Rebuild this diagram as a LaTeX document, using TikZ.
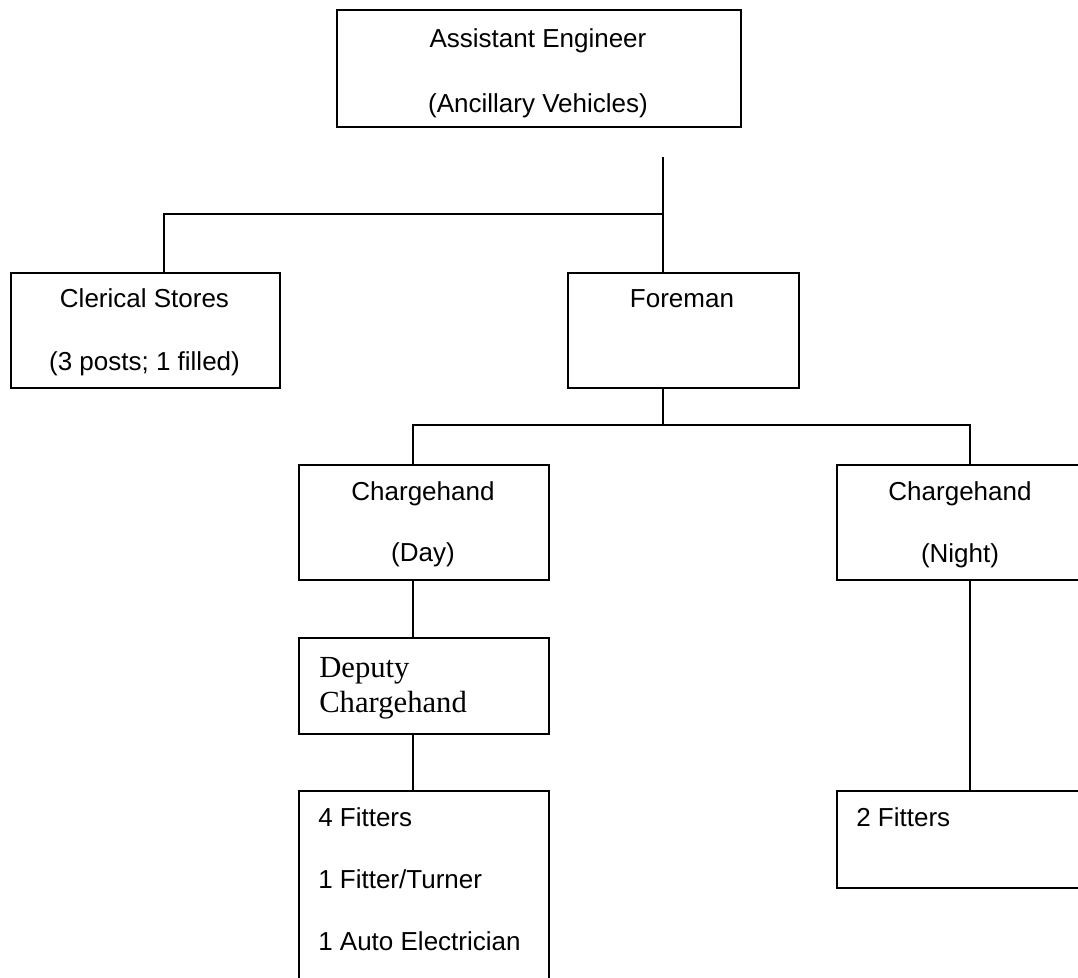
\documentclass[tikz,border=0pt]{standalone}
\usepackage{fontspec}
\setmainfont{Liberation Sans}
\newfontfamily\serifpost{Liberation Serif}

\begin{document}
\begin{tikzpicture}[x=0.75pt,y=0.75pt,yscale=-1,xscale=1,
	post/.style={draw, line width=1.2pt, anchor=north west, inner sep=0pt},
	lbl/.style={anchor=base, inner sep=0pt, font=\fontsize{19.5}{23}\selectfont},
	lbll/.style={lbl, anchor=base west},
	deplbl/.style={anchor=base west, inner sep=0pt, font=\serifpost\fontsize{23}{27}\selectfont},
	link/.style={line width=1.1pt}]
		\useasboundingbox (0,0) rectangle (1078,978);
		\clip (0,0) rectangle (1078,978);
		% posts
		\node[post, minimum width=303pt, minimum height=87.75pt] (ae) at (336,9) {};
		\node[post, minimum width=201.75pt, minimum height=86.25pt] (cs) at (10,272) {};
		\node[post, minimum width=173.25pt, minimum height=86.25pt] (fm) at (567,272) {};
		\node[post, minimum width=187.5pt, minimum height=86.25pt] (chd) at (298,464) {};
		\node[post, minimum width=186pt, minimum height=86.25pt] (chn) at (836,464) {};
		\node[post, minimum width=187.5pt, minimum height=72pt] (dep) at (298,637) {};
		\node[post, minimum width=187.5pt, minimum height=157.5pt] (fd) at (298,790) {};
		\node[post, minimum width=186pt, minimum height=72.75pt] (fn) at (836,790) {};
		% labels
		\node[lbl] (ae-a) at (538,47) {Assistant Engineer};
		\node[lbl] (ae-b) at (538,112) {(Ancillary Vehicles)};
		\node[lbl] (cs-a) at (144.5,307) {Clerical Stores};
		\node[lbl] (cs-b) at (144.5,370) {(3 posts; 1 filled)};
		\node[lbl] (fm-a) at (682,307) {Foreman};
		\node[lbl] (chd-a) at (423,500) {Chargehand};
		\node[lbl] (chd-b) at (423,561) {(Day)};
		\node[lbl] (chn-a) at (960,500) {Chargehand};
		\node[lbl] (chn-b) at (960,562) {(Night)};
		\node[deplbl] (dep-a) at (319,677) {Deputy};
		\node[deplbl] (dep-b) at (319,712) {Chargehand};
		\node[lbll] (fd-a) at (318,826) {4 Fitters};
		\node[lbll] (fd-b) at (318,888) {1 Fitter/Turner};
		\node[lbll] (fd-c) at (318,950) {1 Auto Electrician};
		\node[lbll] (fn-a) at (856,826) {2 Fitters};
		% lines
		\coordinate (ae-stem) at (663,157);
		\coordinate (ae-bus) at (663,214);
		\coordinate (cs-drop) at (164,214);
		\draw[link] (ae-stem) -- (ae-stem |- fm.north);
		\draw[link] (ae-bus) -- (cs-drop) -- (cs-drop |- cs.north);
		\coordinate (fm-bus) at (663,425);
		\coordinate (chd-drop) at (413,425);
		\coordinate (chn-drop) at (970,425);
		\draw[link] (fm-bus |- fm.south) -- (fm-bus);
		\draw[link] (chd-drop |- chd.north) -- (chd-drop) -- (chn-drop) -- (chn-drop |- chn.north);
		\draw[link] (chd-drop |- chd.south) -- (chd-drop |- dep.north);
		\draw[link] (chd-drop |- dep.south) -- (chd-drop |- fd.north);
		\draw[link] (chn-drop |- chn.south) -- (chn-drop |- fn.north);
		\end{tikzpicture}
\end{document}
